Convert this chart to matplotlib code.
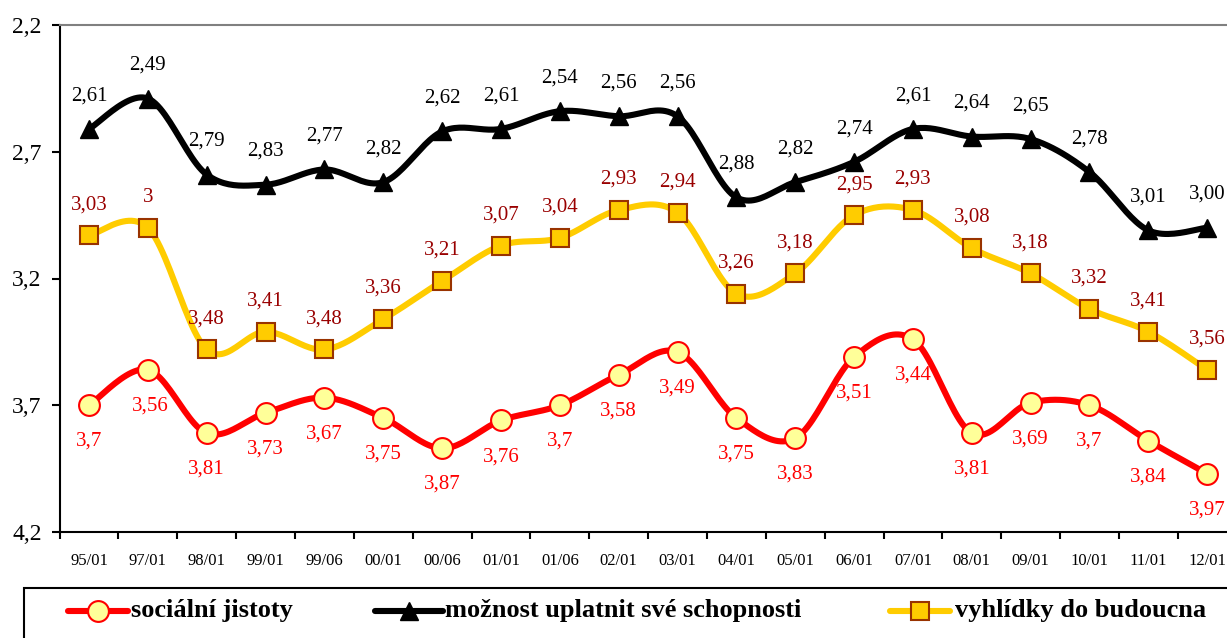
import numpy as np
import matplotlib
matplotlib.use("Agg")
import matplotlib.pyplot as plt
from matplotlib.lines import Line2D
from matplotlib.patches import Rectangle

# ---------------- data ----------------
categories = ["95/01", "97/01", "98/01", "99/01", "99/06", "00/01", "00/06", "01/01",
              "01/06", "02/01", "03/01", "04/01", "05/01", "06/01", "07/01", "08/01",
              "09/01", "10/01", "11/01", "12/01"]

socialni = [3.70, 3.56, 3.81, 3.73, 3.67, 3.75, 3.87, 3.76, 3.70, 3.58,
            3.49, 3.75, 3.83, 3.51, 3.44, 3.81, 3.69, 3.70, 3.84, 3.97]
socialni_labels = ["3,7", "3,56", "3,81", "3,73", "3,67", "3,75", "3,87", "3,76", "3,7", "3,58",
                   "3,49", "3,75", "3,83", "3,51", "3,44", "3,81", "3,69", "3,7", "3,84", "3,97"]

moznost = [2.61, 2.49, 2.79, 2.83, 2.77, 2.82, 2.62, 2.61, 2.54, 2.56,
           2.56, 2.88, 2.82, 2.74, 2.61, 2.64, 2.65, 2.78, 3.01, 3.00]
moznost_labels = ["2,61", "2,49", "2,79", "2,83", "2,77", "2,82", "2,62", "2,61", "2,54", "2,56",
                  "2,56", "2,88", "2,82", "2,74", "2,61", "2,64", "2,65", "2,78", "3,01", "3,00"]

vyhlidky = [3.03, 3.00, 3.48, 3.41, 3.48, 3.36, 3.21, 3.07, 3.04, 2.93,
            2.94, 3.26, 3.18, 2.95, 2.93, 3.08, 3.18, 3.32, 3.41, 3.56]
vyhlidky_labels = ["3,03", "3", "3,48", "3,41", "3,48", "3,36", "3,21", "3,07", "3,04", "2,93",
                   "2,94", "3,26", "3,18", "2,95", "2,93", "3,08", "3,18", "3,32", "3,41", "3,56"]

series_names = ["sociální jistoty", "možnost uplatnit své schopnosti", "vyhlídky do budoucna"]

y_ticks = [2.2, 2.7, 3.2, 3.7, 4.2]
y_tick_labels = ["2,2", "2,7", "3,2", "3,7", "4,2"]

# ---------------- helpers ----------------
def smooth(xs, ys, n=24):
    xs = np.asarray(xs, float)
    ys = np.asarray(ys, float)
    P = np.column_stack([xs, ys])
    m = len(P)
    out = []
    for i in range(m - 1):
        p0 = P[i - 1] if i > 0 else P[i]
        p1 = P[i]
        p2 = P[i + 1]
        p3 = P[i + 2] if i + 2 < m else P[i + 1]
        c1 = p1 + (p2 - p0) / 6.0
        c2 = p2 - (p3 - p1) / 6.0
        t = np.linspace(0, 1, n, endpoint=(i == m - 2))[:, None]
        seg = ((1 - t) ** 3) * p1 + 3 * ((1 - t) ** 2) * t * c1 + 3 * (1 - t) * t ** 2 * c2 + t ** 3 * p2
        out.append(seg)
    out = np.vstack(out)
    return out[:, 0], out[:, 1]

plt.rcParams['font.family'] = ['Liberation Serif', 'DejaVu Serif']

W, H = 1227, 638
fig = plt.figure(figsize=(W / 100, H / 100), dpi=100)
ax = fig.add_axes([59.6 / W, 1 - 532 / H, (1236.6 - 59.6) / W, (532 - 25) / H])

x = np.arange(len(categories))

RED = "#FF0000"
BLACK = "#000000"
YEL = "#FFCC00"
LBL_YEL = "#990000"

styles = [
    dict(values=socialni, labels=socialni_labels, color=RED, marker="o", mfc="#FFFF99", mec=RED,
         ms=15, mew=1.5, lcolor=RED),
    dict(values=moznost, labels=moznost_labels, color=BLACK, marker="^", mfc=BLACK, mec=BLACK,
         ms=13, mew=1, lcolor=BLACK),
    dict(values=vyhlidky, labels=vyhlidky_labels, color=YEL, marker="s", mfc=YEL, mec="#993300",
         ms=13, mew=1.5, lcolor=LBL_YEL),
]

for st in styles:
    sx, sy = smooth(x, st["values"])
    ax.plot(sx, sy, color=st["color"], lw=4.4, solid_capstyle="round", solid_joinstyle="round", zorder=3)
    ax.plot(x, st["values"], ls="none", marker=st["marker"], mfc=st["mfc"], mec=st["mec"],
            ms=st["ms"], mew=st["mew"], zorder=4)

# data labels
for i, (v, t) in enumerate(zip(socialni, socialni_labels)):
    dx = 2 if i == 1 else 0
    ax.annotate(t, (i, v), xytext=(dx, -26), textcoords="offset points", ha="center", va="center",
                fontsize=15, color=RED, zorder=5)
for i, (v, t) in enumerate(zip(moznost, moznost_labels)):
    ax.annotate(t, (i, v), xytext=(0, 24), textcoords="offset points", ha="center", va="center",
                fontsize=15, color=BLACK, zorder=5)
for i, (v, t) in enumerate(zip(vyhlidky, vyhlidky_labels)):
    ax.annotate(t, (i, v), xytext=(0, 22), textcoords="offset points", ha="center", va="center",
                fontsize=15, color=LBL_YEL, zorder=5)

# axes
ax.set_xlim(-0.5, len(categories) - 0.5)
ax.set_ylim(4.2, 2.2)
ax.set_yticks(y_ticks)
ax.set_yticklabels(y_tick_labels)
ax.set_xticks(x)
ax.set_xticklabels(categories)
ax.set_xticks(np.arange(-0.5, len(categories), 1), minor=True)
ax.tick_params(axis="x", which="major", length=0, pad=15, labelsize=12)
ax.tick_params(axis="x", which="minor", length=5, width=1.5, direction="out")
ax.tick_params(axis="y", length=6, width=1.5, pad=7, labelsize=17)
ax.spines["right"].set_visible(False)
ax.spines["top"].set_color("#808080")
ax.spines["top"].set_linewidth(1.5)
ax.spines["left"].set_linewidth(1.5)
ax.spines["bottom"].set_linewidth(1.5)

# legend box
fig.patches.append(Rectangle((24 / W, -0.1), 1.1, (638 - 588) / H + 0.1, transform=fig.transFigure,
                             fill=False, lw=1.5, ec="black", clip_on=False))
ly = 1 - 611 / H
leg = [
    (68, 128, 131, styles[0]),
    (375, 443, 445, styles[1]),
    (890, 950, 955, styles[2]),
]
for (x0, x1, tx, st), name in zip(leg, series_names):
    fig.add_artist(Line2D([x0 / W, x1 / W], [ly, ly], transform=fig.transFigure, color=st["color"],
                          lw=4.4, solid_capstyle="round"))
    fig.add_artist(Line2D([(x0 + x1) / 2 / W], [ly], transform=fig.transFigure, ls="none",
                          marker=st["marker"], mfc=st["mfc"], mec=st["mec"], ms=st["ms"], mew=st["mew"]))
    fig.text(tx / W, ly, name, ha="left", va="center", fontsize=19, fontweight="bold")

fig.savefig("out.png", dpi=100)
